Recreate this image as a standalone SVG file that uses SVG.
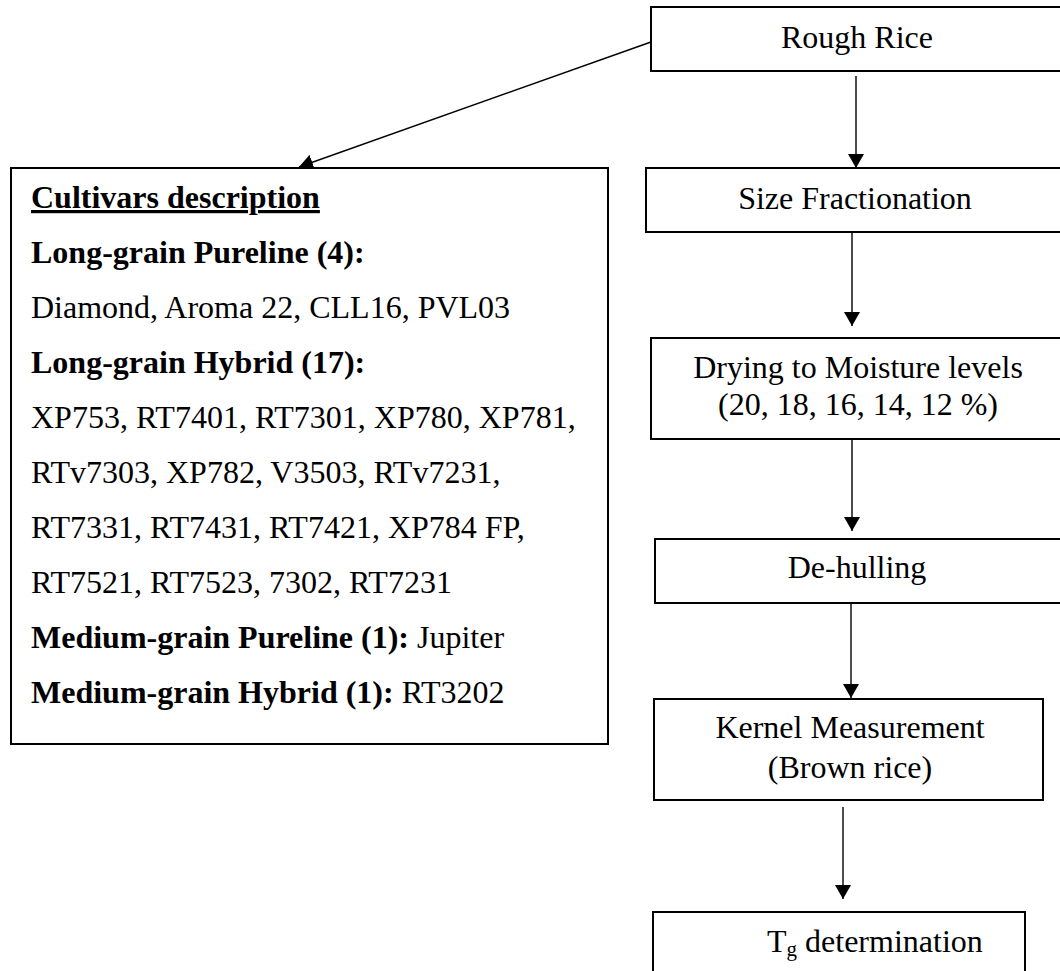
<svg xmlns="http://www.w3.org/2000/svg" width="1060" height="971" viewBox="0 0 1060 971">
<defs>
<style>
.box{fill:#fff;stroke:#000;stroke-width:2}
.t{font-family:"Liberation Serif","Times New Roman",serif;font-size:32px;fill:#000}
.c{text-anchor:middle}
.b{font-weight:bold}
.conn{stroke:#000;stroke-width:1.4;fill:none;marker-end:url(#ah)}
</style>
<marker id="ah" markerWidth="16" markerHeight="16" refX="14" refY="8" orient="auto" markerUnits="userSpaceOnUse">
<path d="M0,0 L14,8 L0,16 Z" fill="#000"/>
</marker>
</defs>
<rect width="1060" height="971" fill="#fff"/>
<g id="connectors">
<line class="conn" x1="651" y1="42" x2="299" y2="167"/>
<line class="conn" x1="856" y1="76" x2="856" y2="168"/>
<line class="conn" x1="852" y1="232" x2="852" y2="326"/>
<line class="conn" x1="852" y1="439" x2="852" y2="531"/>
<line class="conn" x1="851" y1="604" x2="851" y2="698"/>
<line class="conn" x1="843" y1="807" x2="843" y2="899"/>
</g>
<g id="rough-rice">
<rect class="box" x="651" y="7" width="412" height="64"/>
<text class="t c" x="857" y="48">Rough Rice</text>
</g>
<g id="cultivars">
<rect class="box" x="11" y="168" width="597" height="576"/>
<text class="t b" x="31" y="208" text-decoration="underline">Cultivars description</text>
<text class="t b" x="31" y="263">Long-grain Pureline (4):</text>
<text class="t" x="31" y="318">Diamond, Aroma 22, CLL16, PVL03</text>
<text class="t b" x="31" y="373">Long-grain Hybrid (17):</text>
<text class="t" x="31" y="428">XP753, RT7401, RT7301, XP780, XP781,</text>
<text class="t" x="31" y="483">RTv7303, XP782, V3503, RTv7231,</text>
<text class="t" x="31" y="538">RT7331, RT7431, RT7421, XP784 FP,</text>
<text class="t" x="31" y="593">RT7521, RT7523, 7302, RT7231</text>
<text class="t" x="31" y="648"><tspan class="b">Medium-grain Pureline (1):</tspan> Jupiter</text>
<text class="t" x="31" y="703"><tspan class="b">Medium-grain Hybrid (1):</tspan> RT3202</text>
</g>
<g id="size-fractionation">
<rect class="box" x="646" y="168" width="418" height="64"/>
<text class="t c" x="855" y="209">Size Fractionation</text>
</g>
<g id="drying">
<rect class="box" x="651" y="338" width="412" height="101"/>
<text class="t c" x="858" y="378">Drying to Moisture levels</text>
<text class="t c" x="858" y="415">(20, 18, 16, 14, 12 %)</text>
</g>
<g id="de-hulling">
<rect class="box" x="655" y="539" width="408" height="64"/>
<text class="t c" x="857" y="578">De-hulling</text>
</g>
<g id="kernel-measurement">
<rect class="box" x="654" y="699" width="389" height="101"/>
<text class="t c" x="850" y="738">Kernel Measurement</text>
<text class="t c" x="850" y="778">(Brown rice)</text>
</g>
<g id="tg-determination">
<rect class="box" x="653" y="912" width="372" height="80"/>
<text class="t" x="767" y="952">T<tspan font-size="21" dy="4">g</tspan><tspan dy="-4"> determination</tspan></text>
</g>
</svg>
